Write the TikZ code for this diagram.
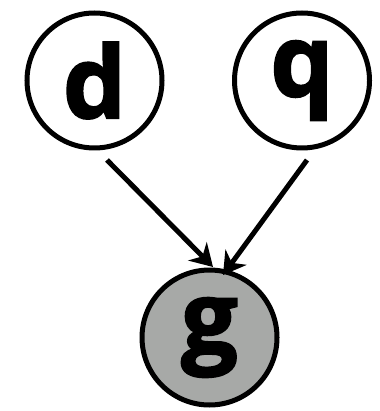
\documentclass[tikz,border=0pt]{standalone}
\usepackage{fontspec}
\setmainfont{Open Sans}[BoldFeatures={FakeBold=2}]
\usetikzlibrary{arrows.meta}
\definecolor{nodegray}{RGB}{167,169,167}
\begin{document}
\begin{tikzpicture}[x=1pt,y=-1pt,
  var/.style={circle,draw=black,line width=5pt,minimum size=135pt,inner sep=0pt,
    font=\fontsize{100}{110}\selectfont\bfseries},
  obs/.style={var,fill=nodegray},
  arr/.style={line width=5pt,-{Stealth[length=22pt,width=26pt,inset=7pt]}}]
\useasboundingbox (0,0) rectangle (379,411);
\node[var] (d) at (94.5,80.5) {d};
\node[var] (q) at (302,80.5) {q};
\node[obs] (g) at (209.5,337.5) {g};
\coordinate (ds) at (107,160);
\coordinate (qs) at (307,160);
\coordinate (gd) at (213,267);
\coordinate (gq) at (223,275);
\draw[arr] (ds) -- (gd);
\draw[arr] (qs) -- (gq);
\end{tikzpicture}
\end{document}
